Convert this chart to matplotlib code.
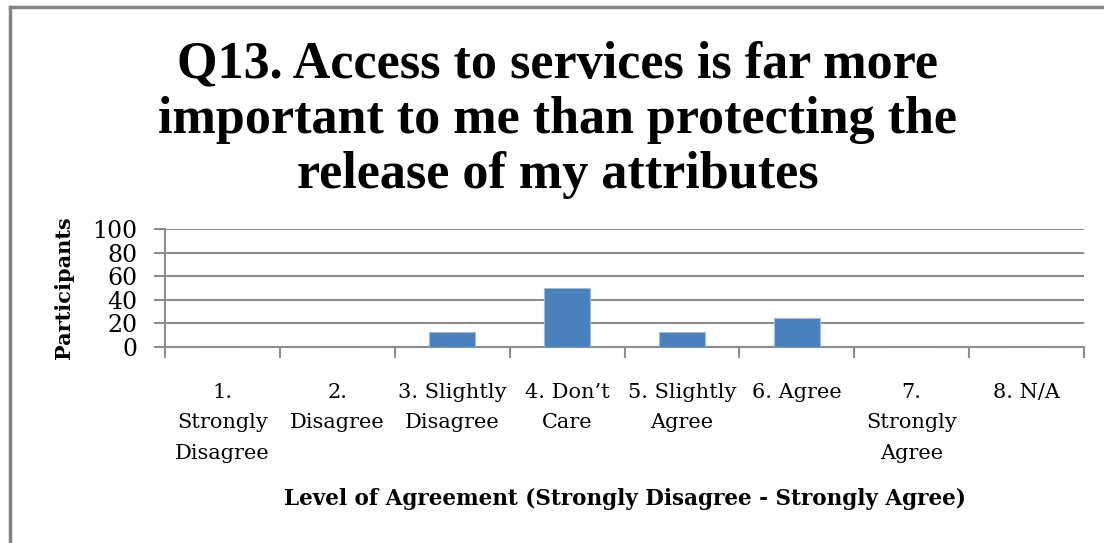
import matplotlib.pyplot as plt
import numpy as np
from matplotlib.lines import Line2D

# chart data
categories = ["1.\nStrongly\nDisagree", "2.\nDisagree", "3. Slightly\nDisagree",
              "4. Don\u2019t\nCare", "5. Slightly\nAgree", "6. Agree",
              "7.\nStrongly\nAgree", "8. N/A"]
participants = [0, 0, 12.5, 50, 12.5, 25, 0, 0]
y_ticks = [0, 20, 40, 60, 80, 100]

title = ("Q13. Access to services is far more\n"
         "important to me than protecting the\n"
         "release of my attributes")

grid_col = "#8c8c8c"

fig = plt.figure(figsize=(11.04, 5.43), dpi=100)
ax = fig.add_axes([165 / 1104, 1 - 347 / 543, (1084 - 165) / 1104, (347 - 229) / 543])

x = np.arange(len(categories))
ax.bar(x, participants, width=0.4, color="#4a81bd", edgecolor="#9dbbe0", linewidth=0.8, zorder=3)

ax.set_xlim(-0.5, len(categories) - 0.5)
ax.set_ylim(0, 100)
ax.set_yticks(y_ticks)
ax.set_yticklabels([str(v) for v in y_ticks], family="DejaVu Serif", fontsize=17)
ax.yaxis.grid(True, color=grid_col, linewidth=1.5, zorder=0)

# category labels sit between boundary ticks
ax.set_xticks(x)
ax.set_xticklabels(categories, family="DejaVu Serif", fontsize=15, linespacing=1.75)
ax.tick_params(axis="x", length=0, pad=26)
ax.set_xticks(np.arange(-0.5, len(categories)), minor=True)
ax.tick_params(axis="x", which="minor", length=8, width=1.5, color=grid_col)
ax.tick_params(axis="y", length=8, width=1.5, color=grid_col, pad=12)

for side in ["top", "right"]:
    ax.spines[side].set_visible(False)
for side in ["left", "bottom"]:
    ax.spines[side].set_color(grid_col)
    ax.spines[side].set_linewidth(1.5)

ax.set_ylabel("Participants", family="DejaVu Serif", fontweight="bold", fontsize=15, labelpad=13)
ax.set_xlabel("Level of Agreement (Strongly Disagree - Strongly Agree)",
              family="DejaVu Serif", fontweight="bold", fontsize=15.5, labelpad=18)

fig.text(0.505, 1 - 120 / 543, title, ha="center", va="center", family="Liberation Serif",
         fontweight="bold", fontsize=37.5, linespacing=1.2)

# chart frame (only top and left edges visible)
fig.add_artist(Line2D([10 / 1104, 10 / 1104], [0, 1 - 7 / 543], transform=fig.transFigure,
                      color="#858585", linewidth=2.5))
fig.add_artist(Line2D([10 / 1104, 1], [1 - 7 / 543, 1 - 7 / 543], transform=fig.transFigure,
                      color="#858585", linewidth=2.5))

fig.savefig("out.png", dpi=100)
